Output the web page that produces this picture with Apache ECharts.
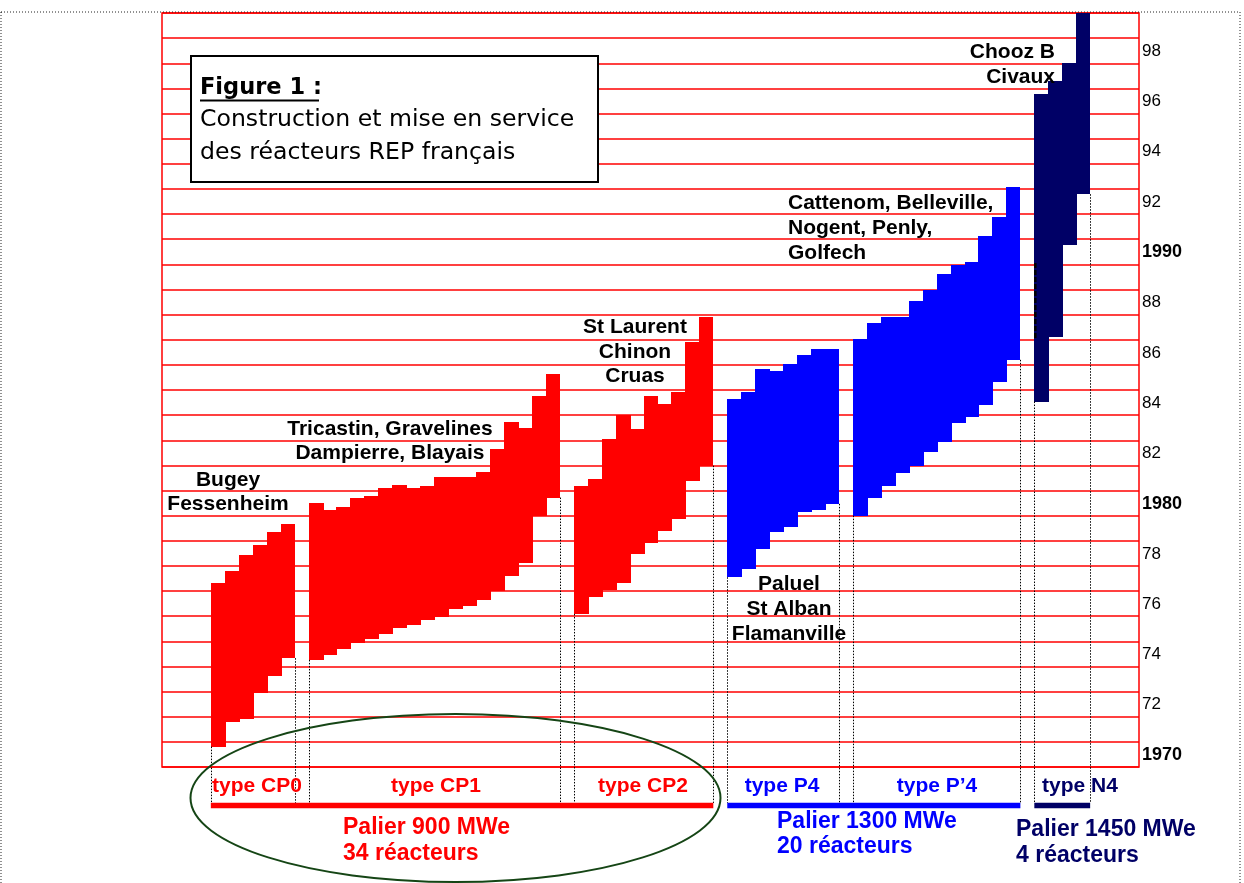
<!DOCTYPE html>
<html>
<head>
<meta charset="utf-8">
<title>Réacteurs REP français</title>
<script src="https://cdn.jsdelivr.net/npm/echarts@6.0.0/dist/echarts.min.js"></script>
<style>
  html, body { margin: 0; padding: 0; background: #fff; }
  #main { width: 1244px; height: 883px; }
</style>
</head>
<body>
<div id="main"></div>
<script>
// début de construction / mise en service (années décimales)
var cp0Start = [1970.81, 1971.80, 1971.90, 1972.96, 1973.63, 1974.33];
var cp0End   = [1977.31, 1977.81, 1978.45, 1978.83, 1979.34, 1979.68];

var cp1Start = [1974.26, 1974.46, 1974.68, 1974.92, 1975.08, 1975.29, 1975.52, 1975.65, 1975.85,
                1975.98, 1976.28, 1976.41, 1976.65, 1977.02, 1977.60, 1978.11, 1979.99, 1980.72];
var cp1End   = [1980.49, 1980.23, 1980.36, 1980.69, 1980.78, 1981.09, 1981.22, 1981.09, 1981.18,
                1981.55, 1981.55, 1981.55, 1981.73, 1982.64, 1983.72, 1983.48, 1984.78, 1985.64];

var cp2Start = [1976.09, 1976.78, 1977.04, 1977.31, 1978.48, 1978.90, 1979.40, 1979.87, 1981.38, 1981.99];
var cp2End   = [1981.18, 1981.46, 1983.04, 1984.01, 1983.44, 1984.76, 1984.44, 1984.93, 1986.90, 1987.92];

var p4Start = [1977.55, 1977.88, 1978.66, 1979.36, 1979.54, 1980.16, 1980.23, 1980.47];
var p4End   = [1984.64, 1984.93, 1985.84, 1985.77, 1986.04, 1986.39, 1986.63, 1986.63];

var pp4Start = [1980.00, 1980.69, 1981.18, 1981.69, 1981.98, 1982.55, 1982.94, 1983.68, 1983.92, 1984.41, 1985.31, 1986.20];
var pp4End   = [1987.02, 1987.68, 1987.92, 1987.92, 1988.56, 1988.98, 1989.62, 1989.98, 1990.11, 1991.13, 1991.87, 1993.09];

var n4Start = [1984.54, 1987.12, 1990.77, 1992.79];
var n4End   = [1996.77, 1997.31, 1998.00, 2000.00];

var typeNames = ['type CP0', 'type CP1', 'type CP2', 'type P4', 'type P\u20194', 'type N4'];
var yearLabels = ['1970', '72', '74', '76', '78', '1980', '82', '84', '86', '88',
                  '1990', '92', '94', '96', '98'];

var RED = '#ff0000', BLUE = '#0000ff', NAVY = '#000066';

var groupStarts = [cp0Start, cp1Start, cp2Start, p4Start, pp4Start, n4Start];
var groupEnds   = [cp0End, cp1End, cp2End, p4End, pp4End, n4End];
var groupColors = [RED, RED, RED, BLUE, BLUE, NAVY];

// une colonne par réacteur, une colonne vide entre deux types
var barData = [], dotData = [], groupSlots = [];
var slot = 3.5;
for (var g = 0; g < groupStarts.length; g++) {
    var s = groupStarts[g], e = groupEnds[g], n = s.length;
    groupSlots.push([slot, slot + n]);
    for (var j = 0; j < n; j++) {
        barData.push({ value: [slot + j, s[j], e[j], j === n - 1 ? 1 : 0], itemStyle: { color: groupColors[g] } });
    }
    dotData.push([slot, s[0]]);
    dotData.push([slot + n, s[n - 1]]);
    slot += n + 1;
}

// traits de palier sous les types
var palierData = [
    { value: [groupSlots[0][0], groupSlots[2][1]], itemStyle: { color: RED } },
    { value: [groupSlots[3][0], groupSlots[4][1]], itemStyle: { color: BLUE } },
    { value: [groupSlots[5][0], groupSlots[5][1]], itemStyle: { color: NAVY } }
];
var dotBottom = 1968.57;
var palierY = 1968.47;

function renderBar(params, api) {
    var p0 = api.coord([api.value(0), api.value(2)]);
    var p1 = api.coord([api.value(0) + 1, api.value(1)]);
    // bords au pixel, chevauchement d'un pixel sur la colonne suivante (pas de liseré blanc)
    var x0 = Math.round(p0[0]), x1 = Math.round(p1[0]);
    var y0 = Math.round(p0[1]), y1 = Math.round(p1[1]);
    var w = x1 - x0 + (api.value(3) ? 0 : 1);
    return {
        type: 'rect',
        shape: { x: x0, y: y0, width: w, height: y1 - y0 },
        style: { fill: api.visual('color') }
    };
}

function renderDot(params, api) {
    var p0 = api.coord([api.value(0), api.value(1)]);
    var p1 = api.coord([api.value(0), dotBottom]);
    var x = Math.round(p0[0]) + 0.5;
    return {
        type: 'line',
        shape: { x1: x, y1: p0[1], x2: x, y2: p1[1] },
        style: { stroke: '#000', lineWidth: 1, lineDash: [1.5, 1.5] }
    };
}

function renderPalier(params, api) {
    var p0 = api.coord([api.value(0), palierY]);
    var p1 = api.coord([api.value(1), palierY]);
    return {
        type: 'line',
        shape: { x1: p0[0], y1: p0[1], x2: p1[0], y2: p1[1] },
        style: { stroke: api.visual('color'), lineWidth: 5.5 }
    };
}

function renderDash(params, api) {
    var p0 = api.coord([api.value(0), api.value(1)]);
    var p1 = api.coord([api.value(0), api.value(2)]);
    return {
        type: 'line',
        shape: { x1: p0[0] + 1, y1: p0[1], x2: p1[0] + 1, y2: p1[1] },
        style: { stroke: '#000', lineWidth: 2.5, lineDash: [5, 2] }
    };
}

function txt(x, y, text, font, color, align) {
    return {
        type: 'text', x: x, y: y, z: 100,
        style: { text: text, font: font, fill: color, align: align || 'center', verticalAlign: 'middle' }
    };
}

var ANNOT = 'bold 21px "Liberation Sans", Arial, sans-serif';
var PAL = 'bold 23px "Liberation Sans", Arial, sans-serif';
var TITLE = '23.6px "DejaVu Sans", Verdana, sans-serif';

var graphics = [
    // cadre pointillé de la page
    { type: 'rect', z: 1, shape: { x: 1, y: 12, width: 1239, height: 890 },
      style: { fill: 'none', stroke: '#222', lineWidth: 1, lineDash: [1, 2] } },
    // encadré titre
    { type: 'rect', z: 100, shape: { x: 191, y: 56, width: 407, height: 126 },
      style: { fill: '#fff', stroke: '#000', lineWidth: 2 } },
    txt(200, 88, 'Figure 1 :', 'bold 22.5px "DejaVu Sans", Verdana, sans-serif', '#000', 'left'),
    { type: 'line', z: 101, shape: { x1: 200, y1: 100.5, x2: 319, y2: 100.5 },
      style: { stroke: '#000', lineWidth: 2 } },
    txt(200, 120, 'Construction et mise en service', TITLE, '#000', 'left'),
    txt(200, 153, 'des réacteurs REP français', TITLE, '#000', 'left'),

    // noms des sites
    txt(228, 480, 'Bugey', ANNOT, '#000'),
    txt(228, 504, 'Fessenheim', ANNOT, '#000'),
    txt(390, 429, 'Tricastin, Gravelines', ANNOT, '#000'),
    txt(390, 453, 'Dampierre, Blayais', ANNOT, '#000'),
    txt(635, 327, 'St Laurent', ANNOT, '#000'),
    txt(635, 352, 'Chinon', ANNOT, '#000'),
    txt(635, 376, 'Cruas', ANNOT, '#000'),
    txt(789, 584, 'Paluel', ANNOT, '#000'),
    txt(789, 609, 'St Alban', ANNOT, '#000'),
    txt(789, 634, 'Flamanville', ANNOT, '#000'),
    txt(788, 203, 'Cattenom, Belleville,', ANNOT, '#000', 'left'),
    txt(788, 228, 'Nogent, Penly,', ANNOT, '#000', 'left'),
    txt(788, 253, 'Golfech', ANNOT, '#000', 'left'),
    txt(1055, 52, 'Chooz B', ANNOT, '#000', 'right'),
    txt(1055, 77, 'Civaux', ANNOT, '#000', 'right'),

    // types et paliers
    txt(257, 786, typeNames[0], ANNOT, RED),
    txt(436, 786, typeNames[1], ANNOT, RED),
    txt(643, 786, typeNames[2], ANNOT, RED),
    txt(782, 786, typeNames[3], ANNOT, BLUE),
    txt(937, 786, typeNames[4], ANNOT, BLUE),
    txt(1042, 786, typeNames[5], ANNOT, NAVY, 'left'),
    txt(343, 828, 'Palier 900 MWe', PAL, RED, 'left'),
    txt(343, 854, '34 réacteurs', PAL, RED, 'left'),
    txt(777, 822, 'Palier 1300 MWe', PAL, BLUE, 'left'),
    txt(777, 847, '20 réacteurs', PAL, BLUE, 'left'),
    txt(1016, 830, 'Palier 1450 MWe', PAL, NAVY, 'left'),
    txt(1016, 856, '4 réacteurs', PAL, NAVY, 'left'),

    // ellipse autour du palier 900
    { type: 'ellipse', z: 102, shape: { cx: 455.5, cy: 798, rx: 265, ry: 84 },
      style: { fill: 'none', stroke: '#154515', lineWidth: 2 } }
];

var myChart = echarts.init(document.getElementById('main'));
var option = {
    backgroundColor: '#fff',
    animation: false,
    grid: { left: 162, right: 105, top: 13, bottom: 116, show: true,
            borderColor: RED, borderWidth: 1.5, backgroundColor: 'transparent' },
    xAxis: { type: 'value', min: 0, max: 70, show: false },
    yAxis: {
        type: 'value', position: 'right', min: 1970, max: 2000, interval: 1,
        axisLine: { show: false }, axisTick: { show: false },
        splitLine: { show: true, lineStyle: { color: RED, width: 1.6 } },
        axisLabel: {
            margin: 3, verticalAlign: 'bottom', lineHeight: 24, color: '#000',
            formatter: function (v) {
                var k = v - 1970;
                if (k % 2 !== 0 || k / 2 >= yearLabels.length) return '';
                var t = yearLabels[k / 2];
                return (t.length === 4 ? '{b|' : '{n|') + t + '}';
            },
            rich: {
                b: { fontFamily: 'Liberation Sans', fontWeight: 'bold', fontSize: 18, color: '#000', lineHeight: 24 },
                n: { fontFamily: 'Liberation Sans', fontSize: 17, color: '#000', lineHeight: 24 }
            }
        }
    },
    graphic: graphics,
    series: [
        { type: 'custom', name: 'réacteurs', renderItem: renderBar, data: barData, z: 3 },
        { type: 'custom', name: 'pointillés', renderItem: renderDot, data: dotData, clip: false, z: 4 },
        { type: 'custom', name: 'paliers', renderItem: renderPalier, data: palierData, clip: false, z: 4 },
        { type: 'custom', name: 'trait', renderItem: renderDash,
          data: [[groupSlots[5][0], 1987.07, 1990.06]], z: 5 }
    ]
};
myChart.setOption(option);
</script>
</body>
</html>
